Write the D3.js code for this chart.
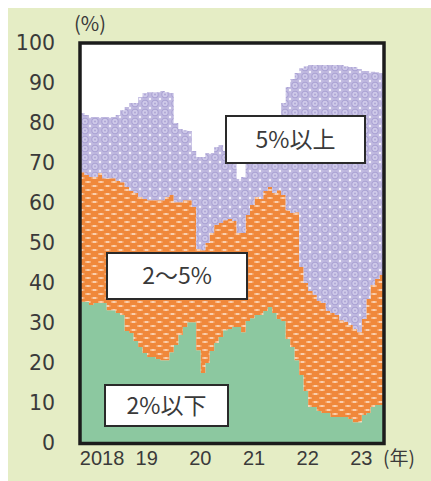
<!DOCTYPE html>
<html>
<head>
<meta charset="utf-8">
<script src="https://cdn.jsdelivr.net/npm/d3@7"></script>
<style>
  html, body { margin: 0; padding: 0; background: #ffffff; }
  svg { display: block; }
</style>
</head>
<body>
<svg id="chart" width="431" height="481"></svg>
<script>
// Monthly shares (%) of respondents by expected inflation bucket, Oct 2017 – May 2023
const startMonth = new Date(2017, 9, 1);
const endMonth = new Date(2023, 5, 1);

const below2 = [
  35.3, 35.3, 34.5, 35.0, 35.0, 35.0, 33.2, 33.2, 32.5, 32.0, 28.0, 27.5,
  25.5, 24.0, 22.5, 21.5, 21.5, 21.0, 20.7, 20.7, 22.7, 24.5, 27.0, 29.0,
  30.2, 30.2, 23.2, 17.5, 20.0, 23.0, 25.0, 26.5, 28.2, 28.5, 29.0, 29.0,
  27.7, 30.5, 31.2, 32.0, 32.0, 33.0, 34.0, 32.5, 31.0, 30.5, 26.0, 24.0,
  20.7, 17.0, 13.0, 9.0, 9.0, 8.0, 7.5, 7.5, 6.5, 6.5, 6.5, 6.5,
  6.0, 5.2, 5.2, 7.0, 7.5, 9.0, 9.5, 9.5
];
const from2to5 = [
  32.4, 31.7, 32.0, 31.5, 32.5, 31.2, 33.0, 33.0, 33.0, 33.2, 36.0, 35.5,
  37.0, 37.5, 38.5, 39.2, 39.2, 39.7, 40.0, 40.8, 39.3, 35.7, 33.2, 31.7,
  30.5, 28.8, 25.3, 30.7, 30.0, 29.5, 29.5, 28.5, 27.5, 27.5, 26.5, 23.5,
  24.8, 26.5, 28.3, 29.5, 29.0, 30.0, 30.0, 30.0, 32.2, 31.5, 32.2, 33.5,
  37.0, 27.0, 27.0, 29.0, 28.0, 27.5, 27.5, 25.5, 26.0, 25.5, 24.2, 23.8,
  23.5, 23.3, 22.5, 24.0, 28.5, 30.5, 31.5, 32.5
];
const above5 = [
  14.8, 15.0, 15.0, 15.0, 14.0, 15.3, 15.3, 15.3, 16.5, 18.0, 20.0, 22.0,
  22.5, 25.0, 26.5, 27.0, 27.0, 27.0, 27.3, 26.2, 25.5, 19.8, 18.3, 17.5,
  17.3, 14.0, 23.0, 23.3, 22.5, 20.0, 19.5, 19.5, 17.3, 15.0, 15.0, 13.5,
  14.0, 13.5, 12.5, 12.5, 15.0, 14.5, 15.0, 18.0, 18.8, 23.0, 30.8, 33.5,
  34.8, 49.7, 54.2, 56.5, 57.5, 59.0, 59.5, 61.5, 62.0, 62.5, 63.8, 63.9,
  64.5, 65.5, 65.8, 62.0, 57.0, 53.3, 51.7, 50.5
];

const seriesKeys = ["below2", "from2to5", "above5"];
const seriesLabels = ["2%以下", "2～5%", "5%以上"];

const yTicks = [0, 10, 20, 30, 40, 50, 60, 70, 80, 90, 100];
const xTickYears = [2018, 2019, 2020, 2021, 2022, 2023];
const xTickLabels = ["2018", "19", "20", "21", "22", "23"];

// ---- layout ----
const svg = d3.select("#chart");
const plot = { left: 80, top: 43, right: 384, bottom: 443 };

const months = d3.timeMonth.range(startMonth, endMonth);
const rows = months.map((d, i) => ({
  date: d, below2: below2[i], from2to5: from2to5[i], above5: above5[i]
}));
// closing row so the last monthly step reaches the right edge
rows.push({ ...rows[rows.length - 1], date: endMonth });

const x = d3.scaleTime().domain([startMonth, endMonth]).range([plot.left, plot.right]);
const y = d3.scaleLinear().domain([0, 100]).range([plot.bottom, plot.top]);

// page background
svg.append("rect").attr("x", 8).attr("y", 8).attr("width", 423).attr("height", 473)
  .attr("fill", "#e5edc5");

// ---- fill patterns ----
const defs = svg.append("defs");

const pPurple = defs.append("pattern").attr("id", "pat-purple")
  .attr("patternUnits", "userSpaceOnUse").attr("width", 10).attr("height", 9);
pPurple.append("rect").attr("width", 10).attr("height", 9).attr("fill", "#c0b9e0");
pPurple.append("circle").attr("cx", 5).attr("cy", 4.5).attr("r", 3.2)
  .attr("fill", "#cfcae9").attr("stroke", "#aaa2d4").attr("stroke-width", 1.1);
pPurple.append("circle").attr("cx", 5).attr("cy", 4.5).attr("r", 1)
  .attr("fill", "#aea6d6");
[[0, 0], [10, 0], [0, 9], [10, 9]].forEach(([cx, cy]) =>
  pPurple.append("circle").attr("cx", cx).attr("cy", cy).attr("r", 1.2).attr("fill", "#f4f2fb"));

const pOrange = defs.append("pattern").attr("id", "pat-orange")
  .attr("patternUnits", "userSpaceOnUse").attr("width", 13).attr("height", 8);
pOrange.append("rect").attr("width", 13).attr("height", 8).attr("fill", "#f0883b");
[[0.5, 1], [7, 5], [-6, 5]].forEach(([bx, by]) => {
  pOrange.append("rect").attr("x", bx).attr("y", by).attr("width", 6).attr("height", 2)
    .attr("fill", "#f6ac74");
  pOrange.append("rect").attr("x", bx + 1.5).attr("y", by + 0.5).attr("width", 3).attr("height", 1)
    .attr("fill", "#fff3e8");
});

const fills = { below2: "#8cc8a0", from2to5: "url(#pat-orange)", above5: "url(#pat-purple)" };

// ---- plot area ----
svg.append("rect")
  .attr("x", plot.left).attr("y", plot.top)
  .attr("width", plot.right - plot.left).attr("height", plot.bottom - plot.top)
  .attr("fill", "#ffffff");

defs.append("clipPath").attr("id", "plot-clip").append("rect")
  .attr("x", plot.left).attr("y", plot.top)
  .attr("width", plot.right - plot.left).attr("height", plot.bottom - plot.top);

const stacked = d3.stack().keys(seriesKeys)(rows);

const area = d3.area()
  .curve(d3.curveStepAfter)
  .x(d => x(d.data.date))
  .y0(d => y(d[0]))
  .y1(d => y(d[1]));

svg.append("g").attr("clip-path", "url(#plot-clip)")
  .selectAll("path")
  .data(stacked)
  .join("path")
  .attr("d", area)
  .attr("fill", d => fills[d.key]);

// frame
svg.append("rect")
  .attr("x", plot.left).attr("y", plot.top)
  .attr("width", plot.right - plot.left).attr("height", plot.bottom - plot.top + 0.5)
  .attr("fill", "none").attr("stroke", "#1c1c1c").attr("stroke-width", 3.5);

// ---- axes ----
const yAxis = svg.append("g")
  .attr("transform", `translate(${plot.left},0)`)
  .call(d3.axisLeft(y).tickValues(yTicks).tickSize(0).tickPadding(25));
yAxis.select(".domain").remove();
yAxis.selectAll("text")
  .attr("font-family", "'DejaVu Sans', sans-serif")
  .attr("font-size", 20.5)
  .attr("fill", "#3a3a3a");

const xAxis = svg.append("g")
  .attr("transform", `translate(0,${plot.bottom})`)
  .call(d3.axisBottom(x)
    .tickValues(xTickYears.map(yr => new Date(yr, 0, 1)))
    .tickFormat((d, i) => xTickLabels[i])
    .tickSize(0).tickPadding(8));
xAxis.select(".domain").remove();
xAxis.selectAll("text")
  .attr("font-family", "'Liberation Sans Narrow', 'Liberation Sans', sans-serif")
  .attr("font-size", 20)
  .attr("fill", "#3a3a3a")
  .attr("dx", (d, i) => i === 0 ? 8 : -1);

// unit labels
svg.append("text")
  .attr("x", 90).attr("y", 31)
  .attr("text-anchor", "middle")
  .attr("font-family", "'Noto Sans CJK JP', sans-serif")
  .attr("font-size", 20).attr("fill", "#3a3a3a")
  .text("(%)");

svg.append("text")
  .attr("x", 383).attr("y", 465)
  .attr("font-family", "'Noto Sans CJK JP', sans-serif")
  .attr("font-size", 19).attr("fill", "#3a3a3a")
  .text("(年)");

// ---- series label boxes ----
const boxes = [
  { key: "above5", x: 226, y: 116, w: 139, h: 47 },
  { key: "from2to5", x: 107, y: 253, w: 140, h: 46 },
  { key: "below2", x: 105, y: 385, w: 123, h: 41 }
];
const boxG = svg.selectAll("g.series-label")
  .data(boxes)
  .join("g")
  .attr("class", "series-label");
boxG.append("rect")
  .attr("x", d => d.x).attr("y", d => d.y)
  .attr("width", d => d.w).attr("height", d => d.h)
  .attr("fill", "#ffffff").attr("stroke", "#2a2a2a").attr("stroke-width", 2);
boxG.append("text")
  .attr("x", d => d.x + d.w / 2).attr("y", d => d.y + d.h / 2)
  .attr("dy", "0.36em")
  .attr("text-anchor", "middle")
  .attr("font-family", "'Noto Sans CJK JP', sans-serif")
  .attr("font-size", 23).attr("fill", "#3a3a3a")
  .text(d => seriesLabels[seriesKeys.indexOf(d.key)]);
</script>
</body>
</html>
